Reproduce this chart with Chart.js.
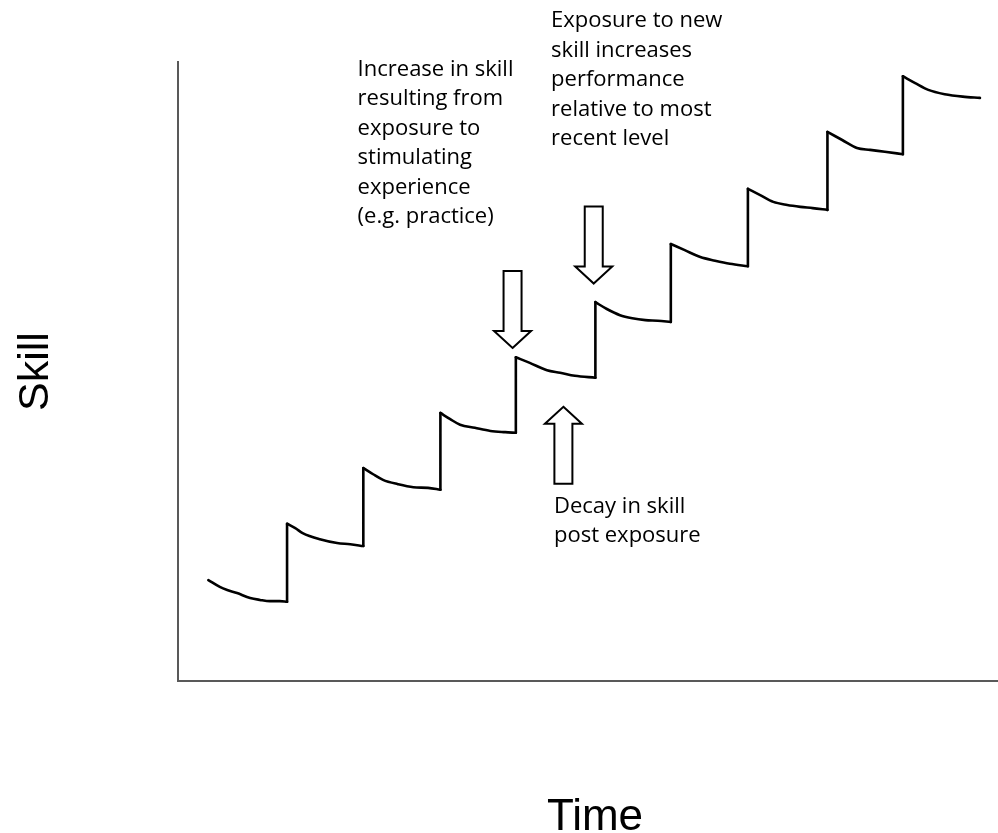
<!DOCTYPE html>
<html>
<head>
<meta charset="utf-8">
<script src="https://cdn.jsdelivr.net/npm/chart.js@4.4.1/dist/chart.umd.min.js"></script>
<style>
html,body{margin:0;padding:0;background:#ffffff;}
#wrap{width:998px;height:833px;}
</style>
</head>
<body>
<div id="wrap"><canvas id="c" width="998" height="833"></canvas></div>
<script>
// ---- Data (Time in arbitrary units 0-100, Skill in arbitrary units 0-100) ----
const timePoints = [
  3.7, 5.1, 6.0, 7.2, 8.8, 10.0, 11.2, 12.4, 13.3,
  13.3, 14.3, 15.2, 17.3, 19.4, 21.0, 22.6,
  22.6, 23.8, 25.0, 26.8, 28.7, 30.5, 32.0,
  32.0, 33.2, 34.4, 36.2, 38.1, 39.9, 41.2,
  41.2, 42.9, 45.0, 46.6, 48.4, 50.9,
  50.9, 52.3, 53.9, 55.4, 57.0, 58.5, 60.1,
  60.1, 61.8, 63.7, 65.5, 67.3, 69.5,
  69.5, 71.0, 72.6, 74.3, 75.9, 77.4, 79.2,
  79.2, 81.0, 82.8, 84.4, 86.2, 88.4,
  88.4, 89.9, 91.5, 93.5, 95.7, 97.8
];
const skillPoints = [
  16.3, 15.2, 14.7, 14.2, 13.4, 13.1, 12.9, 12.9, 12.8,
  25.4, 24.7, 23.9, 22.9, 22.3, 22.1, 21.8,
  34.4, 33.4, 32.5, 31.8, 31.3, 31.2, 30.9,
  43.3, 42.3, 41.4, 40.9, 40.4, 40.2, 40.1,
  52.3, 51.4, 50.2, 49.8, 49.3, 49.0,
  61.2, 60.1, 59.1, 58.6, 58.3, 58.2, 58.0,
  70.6, 69.6, 68.5, 67.9, 67.4, 67.0,
  79.5, 78.5, 77.4, 76.9, 76.6, 76.4, 76.1,
  88.7, 87.4, 86.1, 85.8, 85.5, 85.1,
  97.7, 96.6, 95.5, 94.8, 94.4, 94.2
];
const xAxisTitle = 'Time';
const yAxisTitle = 'Skill';

// Annotation arrows (tip position in data units)
const arrowTipX = [40.8, 50.7, 47.0];
const arrowTipY = [53.8, 64.2, 44.3];
const arrowDir  = ['down', 'down', 'up'];

// Annotation texts (anchor = left x / first baseline, data units)
const noteLines = [
  ['Increase in skill', 'resulting from', 'exposure to', 'stimulating', 'experience', '(e.g. practice)'],
  ['Exposure to new', 'skill increases', 'performance', 'relative to most', 'recent level'],
  ['Decay in skill', 'post exposure']
];
const noteX = [21.9, 45.5, 45.85];
const noteY = [97.8, 105.6, 27.2];

// Build decay segments (smooth) and vertical jumps (straight) from the arrays
const segments = [[]];
const jumps = [];
timePoints.forEach((t, i) => {
  const p = {x: t, y: skillPoints[i]};
  if (i > 0 && t === timePoints[i - 1]) {
    jumps.push({x: timePoints[i - 1], y: skillPoints[i - 1]}, p, {x: t, y: null});
    segments.push([]);
  }
  segments[segments.length - 1].push(p);
});

const lineStyle = {
  borderColor: '#000000',
  borderWidth: 2.6,
  pointRadius: 0,
  fill: false,
  borderJoinStyle: 'round',
  borderCapStyle: 'round'
};
const datasets = segments.map(seg => Object.assign({
  data: seg, cubicInterpolationMode: 'monotone', tension: 0.4
}, lineStyle));
datasets.push(Object.assign({data: jumps, tension: 0, spanGaps: false}, lineStyle));

const annotationPlugin = {
  id: 'annotations',
  afterDatasetsDraw(chart) {
    const ctx = chart.ctx;
    const xs = chart.scales.x, ys = chart.scales.y;
    const area = chart.chartArea;
    ctx.save();
    // arrows
    const len = 77, shaftW = 18, headW = 37, headL = 17;
    ctx.lineWidth = 2;
    ctx.strokeStyle = '#000000';
    ctx.fillStyle = '#ffffff';
    ctx.lineJoin = 'miter';
    arrowTipX.forEach((tx, i) => {
      const px = xs.getPixelForValue(tx);
      const py = ys.getPixelForValue(arrowTipY[i]);
      const s = arrowDir[i] === 'down' ? -1 : 1; // direction from tip to tail
      ctx.beginPath();
      ctx.moveTo(px, py);
      ctx.lineTo(px + headW / 2, py + s * headL);
      ctx.lineTo(px + shaftW / 2, py + s * headL);
      ctx.lineTo(px + shaftW / 2, py + s * len);
      ctx.lineTo(px - shaftW / 2, py + s * len);
      ctx.lineTo(px - shaftW / 2, py + s * headL);
      ctx.lineTo(px - headW / 2, py + s * headL);
      ctx.closePath();
      ctx.fill();
      ctx.stroke();
    });
    // notes
    ctx.font = '100px "Open Sans"';
    const size = 100 * 156 / ctx.measureText('Increase in skill').width;
    ctx.font = size.toFixed(2) + 'px "Open Sans"';
    ctx.fillStyle = '#000000';
    ctx.textAlign = 'left';
    ctx.textBaseline = 'alphabetic';
    noteLines.forEach((lines, i) => {
      const px = xs.getPixelForValue(noteX[i]);
      const py = ys.getPixelForValue(noteY[i]);
      lines.forEach((ln, j) => ctx.fillText(ln, px, py + j * 29.5));
    });
    // axis titles
    ctx.font = '44px "Liberation Sans", Arial, sans-serif';
    ctx.textAlign = 'center';
    ctx.fillText(xAxisTitle, 595, 830);
    ctx.save();
    ctx.translate(48, (area.top + area.bottom) / 2);
    ctx.rotate(-Math.PI / 2);
    ctx.font = '43px "Liberation Sans", Arial, sans-serif';
    ctx.fillText(yAxisTitle, 0, 0);
    ctx.restore();
    ctx.restore();
  }
};

new Chart(document.getElementById('c'), {
  type: 'line',
  data: { datasets: datasets },
  options: {
    responsive: false,
    animation: false,
    devicePixelRatio: 1,
    layout: { padding: { left: 178, top: 62, right: 0, bottom: 152 } },
    plugins: { legend: { display: false }, tooltip: { enabled: false }, title: { display: false } },
    scales: {
      x: {
        type: 'linear', min: 0, max: 100,
        ticks: { display: false },
        grid: { display: false, drawTicks: false },
        border: { display: true, color: '#595959', width: 2 }
      },
      y: {
        type: 'linear', min: 0, max: 100,
        ticks: { display: false },
        grid: { display: false, drawTicks: false },
        border: { display: true, color: '#595959', width: 2 }
      }
    }
  },
  plugins: [annotationPlugin]
});
</script>
</body>
</html>
